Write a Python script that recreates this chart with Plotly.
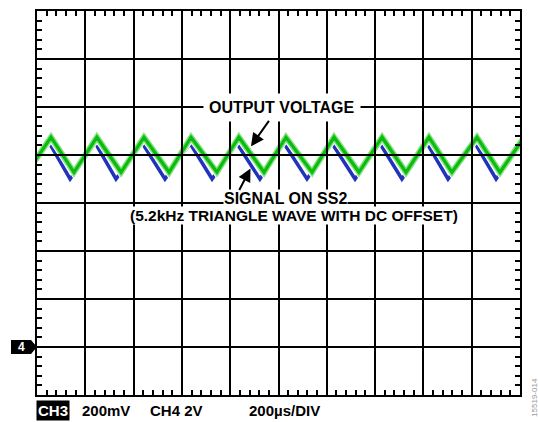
import plotly.graph_objects as go

# ── SCOPE DATA ────────────────────────────────────────────────────────
# x in µs (200 µs/div, 10 div), y in screen divisions (8 div, 0 = centre)
green_t = [-41, 58, 153, 248, 348, 443, 547, 638, 745, 836, 940,
           1031, 1139, 1230, 1333, 1429, 1528, 1623, 1718, 1822, 1917, 2017]
green_v = [0.64, 1.37, 0.64, 1.37, 0.64, 1.37, 0.64, 1.37, 0.64, 1.37, 0.64,
           1.37, 0.64, 1.37, 0.64, 1.37, 0.64, 1.37, 0.64, 1.37, 0.64, 1.37]

blue_t = [-58, 52, 137, 242, 327, 437, 530, 634, 725, 828, 923,
          1023, 1118, 1222, 1317, 1420, 1511, 1615, 1702, 1814, 1901, 2008]
blue_v = [0.50, 1.24, 0.50, 1.24, 0.50, 1.24, 0.50, 1.24, 0.50, 1.24, 0.50,
          1.24, 0.50, 1.24, 0.50, 1.24, 0.50, 1.24, 0.50, 1.24, 0.50, 1.24]

X_RANGE = [0, 2000]
Y_RANGE = [-4, 4]
X_DIV, Y_DIV = 200, 1

FONT = "Arial, Liberation Sans, sans-serif"
GREEN = "#0cbc0c"
GREEN_HALO = "rgba(110,220,110,0.85)"
BLUE = "#2233bb"

fig = go.Figure()

fig.add_trace(go.Scatter(x=blue_t, y=blue_v, mode="lines",
                         line=dict(color=BLUE, width=3.5), hoverinfo="skip"))
fig.add_trace(go.Scatter(x=green_t, y=green_v, mode="lines",
                         line=dict(color="white", width=8), hoverinfo="skip"))
fig.add_trace(go.Scatter(x=green_t, y=green_v, mode="lines",
                         line=dict(color=GREEN_HALO, width=6), hoverinfo="skip"))
fig.add_trace(go.Scatter(x=green_t, y=green_v, mode="lines",
                         line=dict(color=GREEN, width=3.2), hoverinfo="skip"))

# graticule: full-length major ticks drawn above the traces, minor ticks on the frame
frame = dict(showgrid=False, zeroline=False, showticklabels=False,
             showline=True, linecolor="black", linewidth=2, mirror="ticks",
             ticks="inside", tickwidth=2, tickcolor="black",
             layer="above traces", fixedrange=True)
fig.update_xaxes(range=X_RANGE, dtick=X_DIV, tick0=0, ticklen=386,
                 minor=dict(dtick=X_DIV / 5, ticks="inside", ticklen=5,
                            tickwidth=1.5, tickcolor="black"), **frame)
fig.update_yaxes(range=Y_RANGE, dtick=Y_DIV, tick0=0, ticklen=483,
                 minor=dict(dtick=Y_DIV / 5, ticks="inside", ticklen=5,
                            tickwidth=1.5, tickcolor="black"), **frame)

# centre cross-hair ticks
centre = dict(anchor="free", position=0.5, showgrid=False, zeroline=False,
              showticklabels=False, showline=False, ticks="",
              layer="above traces", fixedrange=True)
fig.update_layout(
    xaxis2=dict(overlaying="x", range=X_RANGE, dtick=X_DIV,
                minor=dict(dtick=X_DIV / 5, ticks="inside", ticklen=3,
                           tickwidth=1.5, tickcolor="black"), **centre),
    xaxis3=dict(overlaying="x", range=X_RANGE, dtick=X_DIV,
                minor=dict(dtick=X_DIV / 5, ticks="outside", ticklen=3,
                           tickwidth=1.5, tickcolor="black"), **centre),
    yaxis2=dict(overlaying="y", range=Y_RANGE, dtick=Y_DIV,
                minor=dict(dtick=Y_DIV / 5, ticks="inside", ticklen=3,
                           tickwidth=1.5, tickcolor="black"), **centre),
    yaxis3=dict(overlaying="y", range=Y_RANGE, dtick=Y_DIV,
                minor=dict(dtick=Y_DIV / 5, ticks="outside", ticklen=3,
                           tickwidth=1.5, tickcolor="black"), **centre),
)

bold = dict(family=FONT, size=16, color="black", weight="bold")

# callouts (lower line first so the upper one sits on top of its white box)
fig.add_annotation(x=1064, y=-0.27, text="(5.2kHz TRIANGLE WAVE WITH DC OFFSET)",
                   showarrow=False, font=dict(bold, size=15.5),
                   bgcolor="white", borderpad=0)
fig.add_annotation(x=1027, y=0.1, text="SIGNAL ON SS2", showarrow=False,
                   font=bold, bgcolor="white", borderpad=0)
fig.add_annotation(x=1014, y=2.0, text="OUTPUT VOLTAGE", showarrow=False,
                   font=bold, bgcolor="white", borderpad=5)
fig.add_annotation(x=886, y=1.18, ax=19, ay=-27, text="", showarrow=True,
                   arrowhead=2, arrowsize=1.3, arrowwidth=2, arrowcolor="black",
                   standoff=0)
fig.add_annotation(x=884, y=0.72, ax=-12, ay=23, text="", showarrow=True,
                   arrowhead=2, arrowsize=1.3, arrowwidth=2, arrowcolor="black",
                   standoff=0)

# channel-4 ground marker (points at -3 div on the left edge)
fig.add_shape(type="path", xref="paper", yref="paper", xsizemode="pixel",
              ysizemode="pixel", xanchor=0, yanchor=(-3 - Y_RANGE[0]) / 8,
              path="M 0 0 L -6 -7 L -26 -7 L -26 7 L -6 7 Z",
              fillcolor="black", line=dict(width=0))
fig.add_annotation(xref="paper", x=0, y=-3, xshift=-16, xanchor="center",
                   yanchor="middle", text="4", showarrow=False,
                   font=dict(family=FONT, size=12, color="white", weight="bold"))

# scope settings line below the graticule
bottom = dict(family=FONT, size=15, color="black", weight="bold")
row = dict(yref="paper", y=-0.0415, yanchor="middle", showarrow=False)
fig.add_annotation(x=68, text="CH3", xanchor="center", bgcolor="black",
                   borderpad=1, font=dict(bottom, color="white"), **row)
fig.add_annotation(x=178, text="200mV", xanchor="left", font=bottom, **row)
fig.add_annotation(x=460, text="CH4 2V", xanchor="left", font=bottom, **row)
fig.add_annotation(x=870, text="200µs/DIV", xanchor="left", font=bottom, **row)
fig.add_annotation(xref="paper", yref="paper", x=1.031, y=-0.005,
                   xanchor="center", yanchor="middle",
                   text="15519-014", textangle=-90, showarrow=False,
                   font=dict(family=FONT, size=8, color="#999999"))

fig.update_layout(
    width=538, height=422,
    margin=dict(l=37, r=18, t=9, b=27),
    paper_bgcolor="white", plot_bgcolor="white",
    showlegend=False,
)

fig.write_html("out.html", config={"displayModeBar": False},
               post_script="document.body.style.margin='0';")
